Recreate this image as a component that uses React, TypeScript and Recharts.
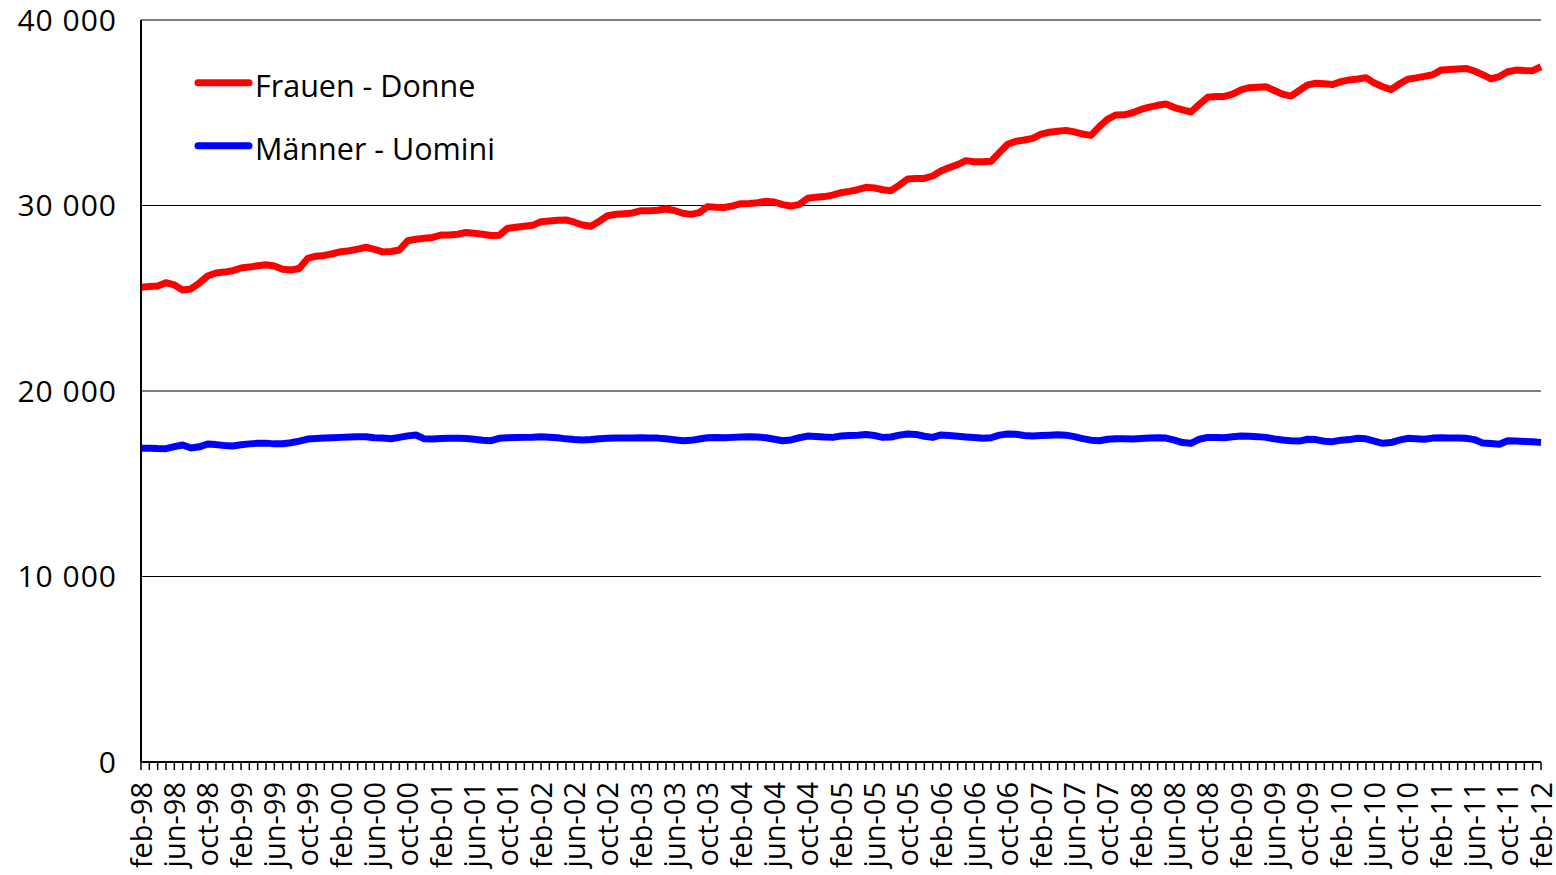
import React from 'react';
import { LineChart, Line, XAxis, YAxis, CartesianGrid, Legend } from 'recharts';

const MONTH_NAMES = ['jan', 'feb', 'mar', 'apr', 'may', 'jun', 'jul', 'aug', 'sep', 'oct', 'nov', 'dec'];

// Monthly categories feb-98 .. feb-12
const categories: string[] = Array.from({ length: 169 }, (_, i) => {
  const k = i + 1;
  const yy = (98 + Math.floor(k / 12)) % 100;
  return `${MONTH_NAMES[k % 12]}-${String(yy).padStart(2, '0')}`;
});

// Labelled ticks: every 4th month (feb, jun, oct)
const tickLabels: string[] = categories.filter((_, i) => i % 4 === 0);

const yTicks = [0, 10000, 20000, 30000, 40000];

const seriesNames = ['Frauen - Donne', 'Männer - Uomini'];

const frauen = [
  25590, 25630, 25660, 25840, 25720, 25450, 25500, 25820, 26200, 26360, 26410, 26480,
  26630, 26680, 26750, 26810, 26740, 26560, 26520, 26600, 27150, 27270, 27310, 27400,
  27510, 27560, 27650, 27750, 27640, 27500, 27520, 27600, 28100, 28180, 28230, 28280,
  28410, 28410, 28450, 28550, 28500, 28450, 28380, 28400, 28770, 28830, 28880, 28930,
  29130, 29170, 29200, 29220, 29100, 28950, 28880, 29150, 29450, 29530, 29560, 29600,
  29720, 29720, 29740, 29810, 29730, 29580, 29520, 29620, 29940, 29900, 29890, 29980,
  30100, 30110, 30150, 30230, 30190, 30050, 29970, 30060, 30390, 30450, 30480, 30560,
  30690, 30760, 30850, 30980, 30950, 30850, 30800, 31100, 31430, 31450, 31460, 31590,
  31860, 32050, 32200, 32420, 32360, 32360, 32380, 32850, 33300, 33460, 33530, 33620,
  33850, 33950, 34000, 34050, 33970, 33850, 33780, 34250, 34660, 34880, 34890, 35000,
  35180, 35300, 35400, 35470, 35280, 35150, 35040, 35450, 35830, 35880, 35880, 36000,
  36230, 36350, 36380, 36400, 36200, 36000, 35900, 36200, 36500, 36590, 36560, 36520,
  36680, 36770, 36820, 36890, 36600, 36400, 36250, 36550, 36810, 36880, 36960, 37050,
  37300, 37330, 37360, 37390, 37250, 37050, 36830, 36950, 37210, 37300, 37280, 37270,
  37480,
];

const maenner = [
  16910, 16920, 16900, 16890, 17000, 17090, 16930, 16990, 17140, 17110, 17060, 17040,
  17100, 17150, 17180, 17190, 17150, 17160, 17210, 17300, 17410, 17440, 17460, 17480,
  17500, 17520, 17540, 17530, 17480, 17470, 17430, 17500, 17580, 17630, 17420, 17410,
  17440, 17450, 17450, 17440, 17400, 17350, 17320, 17450, 17480, 17490, 17500, 17510,
  17540, 17510, 17480, 17420, 17380, 17360, 17380, 17430, 17450, 17460, 17470, 17460,
  17480, 17470, 17460, 17420, 17370, 17320, 17340, 17410, 17480, 17490, 17480, 17500,
  17520, 17540, 17520, 17480, 17400, 17320, 17360, 17480, 17570, 17550, 17520, 17500,
  17570, 17600, 17620, 17660, 17600, 17500, 17520, 17620, 17680, 17660, 17560, 17500,
  17630, 17600, 17560, 17520, 17490, 17450, 17480, 17620, 17680, 17670, 17600, 17570,
  17600, 17620, 17640, 17620, 17540, 17430, 17350, 17320, 17400, 17430, 17420, 17410,
  17440, 17460, 17480, 17460, 17350, 17220, 17180, 17400, 17500, 17490, 17480, 17530,
  17570, 17560, 17540, 17500, 17420, 17360, 17320, 17300, 17400, 17380, 17290, 17270,
  17350, 17380, 17450, 17420, 17300, 17180, 17220, 17350, 17450, 17430, 17400, 17460,
  17480, 17470, 17460, 17450, 17380, 17200, 17170, 17130, 17320, 17300, 17280, 17260,
  17230,
];

const data = categories.map((month, i) => ({
  month,
  frauen: frauen[i],
  maenner: maenner[i],
}));

const FONT = '"Open Sans", sans-serif';

const formatY = (v: number) => (v === 0 ? '0' : `${v / 1000} 000`);

const XTick = (props: any) => {
  const { x, y, payload } = props;
  if (!tickLabels.includes(payload.value)) return <g />;
  return (
    <text
      transform={`translate(${x - 1},${y + 10}) rotate(-90)`}
      textAnchor="end"
      dominantBaseline="central"
      fontSize={29}
      fontFamily={FONT}
      fill="#000"
    >
      {payload.value}
    </text>
  );
};

const renderLegend = (props: any) => {
  const payload = props.payload || [];
  return (
    <svg width={540} height={180} style={{ display: 'block' }}>
      {payload.map((entry: any, i: number) => {
        const cy = 82.7 + i * 63;
        return (
          <g key={i}>
            <line x1={198} y1={cy} x2={249} y2={cy} stroke={entry.color} strokeWidth={7} strokeLinecap="round" />
            <text x={255} y={cy + 14} fontSize={30.5} fontFamily={FONT} fill="#000">
              {entry.value}
            </text>
          </g>
        );
      })}
    </svg>
  );
};

export default function App() {
  return (
    <div style={{ position: 'absolute', left: 0, top: 0 }}>
      <LineChart width={1556} height={875} data={data} margin={{ top: 20, right: 15, bottom: 0, left: 0 }}>
        <CartesianGrid vertical={false} stroke="#000" strokeWidth={1} />
        <XAxis
          dataKey="month"
          scale="point"
          interval={0}
          height={113}
          tickSize={8}
          tickLine={{ stroke: '#000', strokeWidth: 1.5 }}
          axisLine={{ stroke: '#000', strokeWidth: 2 }}
          tick={XTick}
        />
        <YAxis
          domain={[0, 40000]}
          ticks={yTicks}
          width={141}
          tickLine={false}
          tickSize={0}
          tickMargin={24}
          axisLine={{ stroke: '#000', strokeWidth: 2 }}
          tickFormatter={formatY}
          tick={{ fontSize: 30, fontFamily: FONT, fill: '#000', letterSpacing: 1 }}
        />
        <Legend
          layout="vertical"
          verticalAlign="middle"
          align="center"
          content={renderLegend}
          wrapperStyle={{ position: 'absolute', left: 0, top: 0, width: 540, height: 180 }}
        />
        <Line
          type="linear"
          dataKey="frauen"
          name={seriesNames[0]}
          stroke="#FF0000"
          strokeWidth={7}
          strokeLinejoin="round"
          dot={false}
          activeDot={false}
          isAnimationActive={false}
        />
        <Line
          type="linear"
          dataKey="maenner"
          name={seriesNames[1]}
          stroke="#0000FF"
          strokeWidth={7}
          strokeLinejoin="round"
          dot={false}
          activeDot={false}
          isAnimationActive={false}
        />
      </LineChart>
    </div>
  );
}
